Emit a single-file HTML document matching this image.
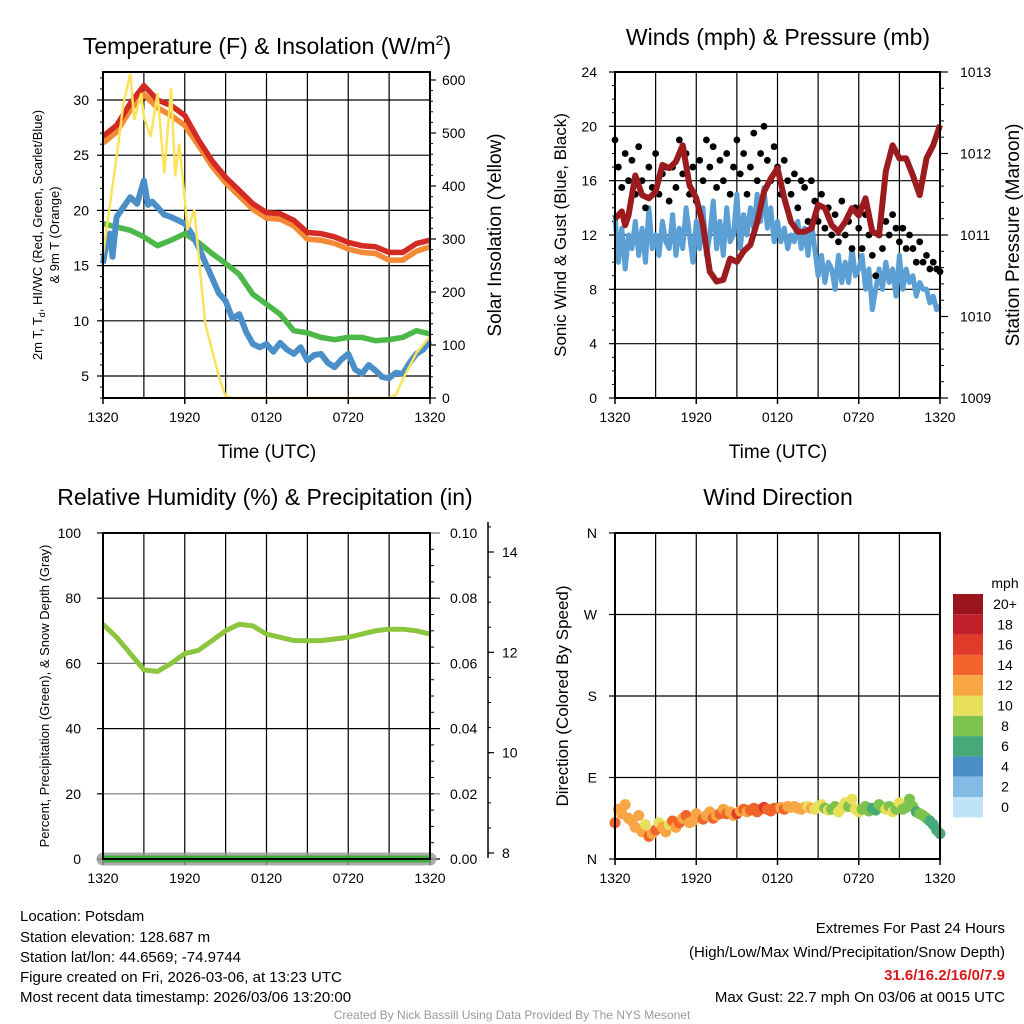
<!DOCTYPE html>
<html><head><meta charset="utf-8"><style>
html,body{margin:0;padding:0;background:#fff;}
svg{display:block;font-family:"Liberation Sans",sans-serif;}
</style></head><body>
<svg id="svg" width="1024" height="1024" viewBox="0 0 1024 1024" xmlns="http://www.w3.org/2000/svg">
<g id="g"></g>
<text x="267" y="54" font-size="23" text-anchor="middle">Temperature (F) &amp; Insolation (W/m<tspan font-size="14" dy="-9">2</tspan><tspan dy="9">)</tspan></text>
<text x="778" y="45" font-size="23" text-anchor="middle">Winds (mph) &amp; Pressure (mb)</text>
<text x="265" y="505" font-size="23" text-anchor="middle">Relative Humidity (%) &amp; Precipitation (in)</text>
<text x="778" y="505" font-size="23" text-anchor="middle">Wind Direction</text>
<text transform="translate(42,235) rotate(-90)" font-size="13" text-anchor="middle">2m T, T<tspan font-size="9" dy="3">d</tspan><tspan dy="-3">, HI/WC (Red, Green, Scarlet/Blue)</tspan></text>
<text transform="translate(59,235) rotate(-90)" font-size="13" text-anchor="middle">&amp; 9m T (Orange)</text>
<text transform="translate(501,235) rotate(-90)" font-size="19" text-anchor="middle">Solar Insolation (Yellow)</text>
<text x="267" y="458" font-size="19" text-anchor="middle">Time (UTC)</text>
<text transform="translate(566,235) rotate(-90)" font-size="17" text-anchor="middle">Sonic Wind &amp; Gust (Blue, Black)</text>
<text transform="translate(1019,235) rotate(-90)" font-size="19" text-anchor="middle">Station Pressure (Maroon)</text>
<text x="778" y="458" font-size="19" text-anchor="middle">Time (UTC)</text>
<text transform="translate(49,696) rotate(-90)" font-size="13" text-anchor="middle">Percent, Precipitation (Green), &amp; Snow Depth (Gray)</text>
<text transform="translate(568,696) rotate(-90)" font-size="17" text-anchor="middle">Direction (Colored By Speed)</text>
<g font-size="15">
<text x="20" y="921">Location: Potsdam</text>
<text x="20" y="942">Station elevation: 128.687 m</text>
<text x="20" y="962">Station lat/lon: 44.6569; -74.9744</text>
<text x="20" y="982">Figure created on Fri, 2026-03-06, at 13:23 UTC</text>
<text x="20" y="1002">Most recent data timestamp: 2026/03/06 13:20:00</text>
</g>
<g font-size="15" text-anchor="end">
<text x="1005" y="933">Extremes For Past 24 Hours</text>
<text x="1005" y="957">(High/Low/Max Wind/Precipitation/Snow Depth)</text>
<text x="1005" y="980" fill="#d7191c" font-weight="bold">31.6/16.2/16/0/7.9</text>
<text x="1005" y="1002">Max Gust: 22.7 mph On 03/06 at 0015 UTC</text>
</g>
<text x="512" y="1019" font-size="12" fill="#999" text-anchor="middle">Created By Nick Bassill Using Data Provided By The NYS Mesonet</text>
</svg>
<script>
// ---------- data ----------
const timeLabels = ["1320","1920","0120","0720","1320"];
const tempHours = [0,1,2,3,4,5,6,7,8,9,10,11,12,13,14,15,16,17,18,19,20,21,22,23,24];
const tempRed = [26.7,27.7,29.7,31.3,30,29.5,28.6,26.4,24.5,23,21.8,20.6,19.8,19.7,19.1,18,17.9,17.6,17.1,16.8,16.7,16.2,16.2,17,17.3];
const tempOrange = [26.1,27.1,29.1,30.5,29.3,28.6,27.7,25.9,24.0,22.5,21.3,20.1,19.3,19.2,18.6,17.4,17.3,17.0,16.5,16.2,16.1,15.5,15.5,16.3,16.7];
const dewHours = [0,0.3,0.5,0.7,1,1.5,2,2.5,3,3.3,3.6,4,4.5,5,5.5,6,6.5,7,7.5,8,8.5,9,9.5,10,10.5,11,11.5,12,12.5,13,13.5,14,14.5,15,15.5,16,16.5,17,17.5,18,18.5,19,19.5,20,20.5,21,21.5,22,22.5,23,23.5,24];
const dewBlue = [15.2,17.5,17.9,15.8,19.4,20.3,21.2,20.6,22.7,20.5,20.8,20.3,19.6,19.4,19.1,18.8,17.9,16.7,15.3,13.9,12.5,11.8,10.2,10.6,9.0,7.9,7.6,7.9,7.2,8.0,7.4,7.0,7.6,6.4,6.9,7.0,6.2,5.8,6.5,7.0,5.6,5.2,6.0,5.5,4.9,4.8,5.3,5.2,6.2,7.0,7.4,8.2];
const dewGreen = [18.8,18.5,18.2,17.6,16.8,17.3,17.9,17.1,16.1,15.2,14.2,12.4,11.5,10.6,9.1,8.9,8.5,8.3,8.5,8.5,8.2,8.3,8.5,9.1,8.8];
const solarHours = [0,1,1.5,2,2.3,2.8,3,3.5,4,4.5,5,5.3,5.6,6,6.2,6.7,7,7.5,8,8.5,9,9.5,21,21.5,22,23,24];
const solarVals = [270,455,555,612,525,575,530,493,575,424,584,418,480,374,317,355,273,141,91,41,3,0,0,6,35,85,116];
const windVals = [13.5,10,12.5,9.5,12,11,13,10.5,12.5,10,14,11,12,10.5,13,11.5,11,13.5,10.5,12.5,11,14,12,10,13,11,14,10.5,12,14.5,11,13,10.5,14,11.5,12,15,11,13.5,12,14,12.5,15,13,15.5,12.5,14,11.5,13,11.5,12.5,11,12,11.5,13,11,12.5,10.5,13,11,9,10.5,8.5,10,9.5,8,10.5,8.5,10,8.5,11,9,9.5,10.5,8,9.5,6.5,8,9.5,8,10,8.5,9.5,7.5,10.5,8,9.5,8.5,9,7.5,8.5,8,8,7,7.5,6.5,6.8];
const gustVals = [19,17,15.5,18,16,17.5,15,18.5,16,14,17,15.5,18,15,16.5,17,14.5,17,15.5,19,16.5,18,15,17,14.5,17.5,16,19,17,18.5,15.5,17.5,16,18,15,17,19,16.5,18,15,17,19.5,16,18,20,17.5,16,18.5,17,15,17.5,16,15,16.5,14,16,15.5,13,16,14.5,13,15,12.5,14,12,13.5,11.5,14.5,12,13,11,14,12.5,11,13.5,12,10.5,9,12,11,13,12,13.5,12.5,11.5,12.5,11,12,11,10,11.5,10,10.5,9.5,10,9.5,9.3];
const presHours = [0,0.5,0.75,1,1.5,2,2.5,3,3.5,4,4.5,5,5.5,6,6.5,7,7.5,8,8.5,9,9.5,10,10.5,11,11.5,12,12.5,13,13.5,14,14.5,15,15.5,16,16.5,17,17.5,18,18.5,19,19.5,20,20.5,21,21.5,22,22.5,23,23.5,24];
const presVals = [1011.2,1011.29,1011.12,1011.24,1011.73,1011.49,1011.45,1011.53,1011.86,1011.82,1011.9,1012.1,1011.61,1011.45,1011.12,1010.55,1010.43,1010.45,1010.71,1010.67,1010.8,1010.88,1011.16,1011.53,1011.69,1011.82,1011.45,1011.16,1011.04,1011.04,1011.08,1011.37,1011.33,1011.12,1011.04,1011.16,1011.33,1011.24,1011.45,1011.04,1011.0,1011.78,1012.1,1011.94,1011.94,1011.73,1011.49,1011.94,1012.1,1012.35];
const rhVals = [72,68,63,58,57.5,60,63,64,67,70,72,71.5,69,68,67,67,67,67.5,68,69,70,70.5,70.5,70,69];
const dirVals = [40,55,50,60,45,42,35,48,30,38,25,28,32,40,35,30,38,42,35,40,45,48,40,42,50,46,44,48,52,45,48,50,55,50,52,48,50,53,55,52,54,56,52,55,57,55,53,56,56,57,55,58,57,58,56,55,57,58,56,55,58,60,56,54,55,58,52,56,62,58,66,55,52,55,58,53,56,54,60,57,55,58,52,55,62,55,57,66,58,52,50,48,45,42,38,32,28];
const precipVal = 0, snowDepth = 7.9;
const speedBins = ["20+","18","16","14","12","10","8","6","4","2","0"];
const binColors = ["#98161b","#c1202a","#e03a2b","#f2652a","#f8a643","#e8e05a","#7cc24d","#47a878","#4a8fc8","#82bce5","#bfe3f7"];

// ---------- helpers ----------
const NS="http://www.w3.org/2000/svg";
const root=document.getElementById('g');
function mk(tag,attrs,parent){const e=document.createElementNS(NS,tag);for(const k in attrs)e.setAttribute(k,attrs[k]);(parent||root).appendChild(e);return e;}
function txt(x,y,s,size,anchor){const e=mk('text',{x:x,y:y,'font-size':size,'text-anchor':anchor||'middle'});e.textContent=s;return e;}
function lin(d0,d1,r0,r1){return v=>r0+(v-d0)*(r1-r0)/(d1-d0);}
function pathD(xs,ys,fx,fy){return xs.map((v,i)=>(i?'L':'M')+fx(v).toFixed(1)+' '+fy(ys[i]).toFixed(1)).join(' ');}
const qh = windVals.map((v,i)=>i/4);

function panel(L,R,T,B,name){
  const fx=lin(0,24,L,R);
  for(let h=3;h<24;h+=3){
    const l=mk('line',{x1:fx(h),x2:fx(h),y1:T,y2:B,stroke:'#000','stroke-width':1.2});
    
    
  }
  timeLabels.forEach((s,i)=>{
    const t=txt(fx(i*6),B+24,s,14);
    
    
    mk('line',{x1:fx(i*6),x2:fx(i*6),y1:B,y2:B+6,stroke:'#000','stroke-width':1.5});
  });
  return fx;
}
function frame(L,R,T,B,name){
  const r=mk('rect',{x:L,y:T,width:R-L,height:B-T,fill:'none',stroke:'#000','stroke-width':2});
  
  
}

// ---------- Panel 1: temperature ----------
{
  const L=103,R=430,T=72,B=398;
  const fy=lin(30,5,100,376);
  const fs=lin(0,600,398,80);
  for(let v=5;v<=30;v+=5){
    const l=mk('line',{x1:L,x2:R,y1:fy(v),y2:fy(v),stroke:'#000','stroke-width':1.2});
    
    
    const t=txt(L-14,fy(v)+5,String(v),14,'end');
    
    
    mk('line',{x1:L-6,x2:L,y1:fy(v),y2:fy(v),stroke:'#000','stroke-width':1.2});
  }
  for(let v=3;v<=32;v++) mk('line',{x1:L-3,x2:L,y1:fy(v),y2:fy(v),stroke:'#000','stroke-width':1});
  for(let v=0;v<=600;v+=100){
    const t=txt(R+12,fs(v)+5,String(v),14,'start');
    
    
    mk('line',{x1:R,x2:R+6,y1:fs(v),y2:fs(v),stroke:'#000','stroke-width':1.2});
  }
  for(let v=20;v<=600;v+=20) mk('line',{x1:R,x2:R+3,y1:fs(v),y2:fs(v),stroke:'#000','stroke-width':1});
  const fx=panel(L,R,T,B,'temperature');
  const series=[[tempHours,tempOrange,'#f58a35','orange-9m-temp-line',5.5],[tempHours,tempRed,'#d42a24','red-2m-temp-line',5.5],[tempHours,dewGreen,'#4cb848','green-dewpoint-line',5.5],[dewHours,dewBlue,'#4a8fc8','blue-windchill-line',6]];
  series.forEach(s=>{
    const p=mk('path',{d:pathD(s[0],s[1],fx,fy),fill:'none',stroke:s[2],'stroke-width':s[4],'stroke-linejoin':'round'});
    
    
  });
  const sp=mk('path',{d:pathD(solarHours,solarVals,fx,fs),fill:'none',stroke:'#fde25b','stroke-width':2.5});
  
  
  frame(L,R,T,B,'temperature');
}

// ---------- Panel 2: winds ----------
{
  const L=615,R=940,T=72,B=398;
  const fy=lin(0,24,B,T);
  const fp=lin(1009,1013,B,T);
  for(let v=0;v<=24;v+=4){
    const l=mk('line',{x1:L,x2:R,y1:fy(v),y2:fy(v),stroke:'#000','stroke-width':1.2});
    
    
    const t=txt(L-18,fy(v)+5,String(v),14,'end');
    
    
    mk('line',{x1:L-6,x2:L,y1:fy(v),y2:fy(v),stroke:'#000','stroke-width':1.2});
  }
  for(let v=1;v<24;v+=1) mk('line',{x1:L-3,x2:L,y1:fy(v),y2:fy(v),stroke:'#000','stroke-width':1});
  for(let v=1009;v<=1013;v++){
    const t=txt(R+20,fp(v)+5,String(v),14,'start');
    
    
    mk('line',{x1:R,x2:R+8,y1:fp(v),y2:fp(v),stroke:'#000','stroke-width':1.2});
  }
  for(let v=1009;v<1013;v+=0.2) mk('line',{x1:R,x2:R+4,y1:fp(v),y2:fp(v),stroke:'#000','stroke-width':1});
  const fx=panel(L,R,T,B,'wind');
  const wp=mk('path',{d:pathD(qh,windVals,fx,fy),fill:'none',stroke:'#5b9fd4','stroke-width':5,'stroke-linejoin':'round'});
  
  
  gustVals.forEach((v,i)=>{
    const c=mk('circle',{cx:fx(qh[i]),cy:fy(v),r:3.4,fill:'#000'});
    
    
  });
  const pp=mk('path',{d:pathD(presHours,presVals,fx,fp),fill:'none',stroke:'#9b1b1e','stroke-width':6,'stroke-linejoin':'round'});
  
  
  frame(L,R,T,B,'wind');
}

// ---------- Panel 3: humidity ----------
{
  const L=103,R=430,T=533,B=859;
  const fy=lin(0,100,B,T);
  const fpr=lin(0,0.1,B,T);
  const fsd=lin(8,14,853,552);
  for(let v=0;v<=100;v+=20){
    const l=mk('line',{x1:L,x2:R+10,y1:fy(v),y2:fy(v),stroke:(v/20)%2?'#777':'#000','stroke-width':1.2});
    
    
    const t=txt(L-22,fy(v)+5,String(v),14,'end');
    
    
    mk('line',{x1:L-6,x2:L,y1:fy(v),y2:fy(v),stroke:'#000','stroke-width':1.2});
    const t2=txt(R+20,fpr(v/1000)+5,(v/1000).toFixed(2),14,'start');
    
    
  }
  for(let v=5;v<100;v+=5) mk('line',{x1:R,x2:R+4,y1:fy(v),y2:fy(v),stroke:'#000','stroke-width':1});
  mk('line',{x1:488,x2:488,y1:fsd(14.6),y2:fsd(7.9),stroke:'#000','stroke-width':1.5});
  for(let v=8;v<=14;v+=2){
    mk('line',{x1:488,x2:494,y1:fsd(v),y2:fsd(v),stroke:'#000','stroke-width':1.2});
    const t=txt(502,fsd(v)+5,String(v),14,'start');
    
    
  }
  for(let v=8;v<=14.5;v+=0.5) mk('line',{x1:488,x2:491,y1:fsd(v),y2:fsd(v),stroke:'#000','stroke-width':1});
  const fx=panel(L,R,T,B,'humidity');
  const rp=mk('path',{d:pathD(tempHours,rhVals,fx,fy),fill:'none',stroke:'#8cc63f','stroke-width':5,'stroke-linejoin':'round'});
  
  
  const sd=mk('line',{x1:fx(0),x2:fx(24),y1:Math.max(fsd(snowDepth),B),y2:Math.max(fsd(snowDepth),B),stroke:'#999','stroke-width':13,'stroke-linecap':'round','stroke-opacity':0.8});
  
  
  const pr=mk('line',{x1:fx(0),x2:fx(24),y1:fpr(precipVal),y2:fpr(precipVal),stroke:'#3fae3f','stroke-width':7});
  
  
  frame(L,R,T,B,'humidity');
}

// ---------- Panel 4: wind direction ----------
{
  const L=615,R=940,T=533,B=859;
  const fy=lin(0,360,B,T);
  ["N","E","S","W","N"].forEach((s,i)=>{
    const l=mk('line',{x1:L,x2:R,y1:fy(i*90),y2:fy(i*90),stroke:'#000','stroke-width':1.2});
    
    
    const t=txt(L-18,fy(i*90)+5,s,14,'end');
    
    
    mk('line',{x1:L-6,x2:L,y1:fy(i*90),y2:fy(i*90),stroke:'#000','stroke-width':1.2});
  });
  const fx=panel(L,R,T,B,'direction');
  dirVals.forEach((d,i)=>{
    const spd=(windVals[i]+gustVals[i])/2-1;
    const bin=Math.max(0,Math.min(10,10-Math.floor(spd/2)));
    const c=mk('circle',{cx:fx(qh[i]),cy:fy(d),r:5.5,fill:binColors[bin]});
    
    
  });
  frame(L,R,T,B,'direction');
  const t0=txt(1005,588,'mph',14);
  
  
  speedBins.forEach((s,i)=>{
    const r=mk('rect',{x:953,y:594+i*20.3,width:30,height:20.3,fill:binColors[i]});
    
    
    const t=txt(1005,609+i*20.3,s,14);
    
    
  });
}
</script>
</body></html>
